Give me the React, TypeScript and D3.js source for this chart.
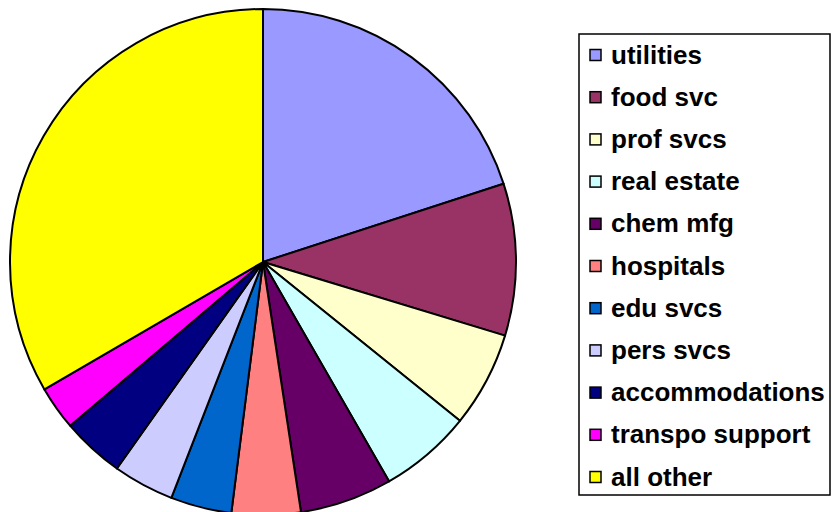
import { useEffect, useRef } from "react";
import * as d3 from "d3";

const categories = [
  "utilities",
  "food svc",
  "prof svcs",
  "real estate",
  "chem mfg",
  "hospitals",
  "edu svcs",
  "pers svcs",
  "accommodations",
  "transpo support",
  "all other",
];

// share of total, percent
const shares = [20.0, 9.7, 6.1, 5.9, 5.9, 4.4, 3.9, 3.9, 4.0, 2.8, 33.4];

const colors = [
  "#9999FF",
  "#993366",
  "#FFFFCC",
  "#CCFFFF",
  "#660066",
  "#FF8080",
  "#0066CC",
  "#CCCCFF",
  "#000080",
  "#FF00FF",
  "#FFFF00",
];

function App() {
  const svgRef = useRef<SVGSVGElement | null>(null);

  useEffect(() => {
    const svg = d3.select(svgRef.current);
    svg.selectAll("*").remove();

    const width = 832;
    const height = 512;
    const cx = 263;
    const cy = 262;
    const radius = 253;

    svg.attr("width", width).attr("height", height);

    const data = categories.map((c, i) => ({ name: c, value: shares[i] }));

    const color = d3.scaleOrdinal<string, string>().domain(categories).range(colors);

    const pie = d3
      .pie<{ name: string; value: number }>()
      .value((d) => d.value)
      .sort(null);

    const arc = d3
      .arc<d3.PieArcDatum<{ name: string; value: number }>>()
      .innerRadius(0)
      .outerRadius(radius);

    const g = svg.append("g").attr("transform", `translate(${cx},${cy})`);

    g.selectAll("path")
      .data(pie(data))
      .enter()
      .append("path")
      .attr("d", arc)
      .attr("fill", (d) => color(d.data.name))
      .attr("stroke", "#000")
      .attr("stroke-width", 2)
      .attr("stroke-linejoin", "round");

    // legend
    const legX = 579;
    const legY = 34;
    const legW = 251;
    const legH = 461;
    const rowStep = 42.2;
    const firstBaseline = 63.5;

    const leg = svg.append("g");
    leg
      .append("rect")
      .attr("x", legX)
      .attr("y", legY)
      .attr("width", legW)
      .attr("height", legH)
      .attr("fill", "#fff")
      .attr("stroke", "#000")
      .attr("stroke-width", 1.5);

    const rows = leg
      .selectAll("g.row")
      .data(categories)
      .enter()
      .append("g")
      .attr("class", "row")
      .attr("transform", (_d, i) => `translate(0,${firstBaseline + i * rowStep})`);

    rows
      .append("rect")
      .attr("x", 590)
      .attr("y", -14)
      .attr("width", 11)
      .attr("height", 11)
      .attr("fill", (d) => color(d))
      .attr("stroke", "#000")
      .attr("stroke-width", 1.5);

    rows
      .append("text")
      .attr("x", 611)
      .attr("y", 0)
      .style("font-family", "'Liberation Sans', Arial, sans-serif")
      .style("font-weight", "bold")
      .style("font-size", "26px")
      .attr("fill", "#000")
      .text((d) => d);
  }, []);

  return (
    <svg
      ref={svgRef}
      style={{ position: "fixed", left: 0, top: 0, background: "#fff" }}
    />
  );
}

export default App;
